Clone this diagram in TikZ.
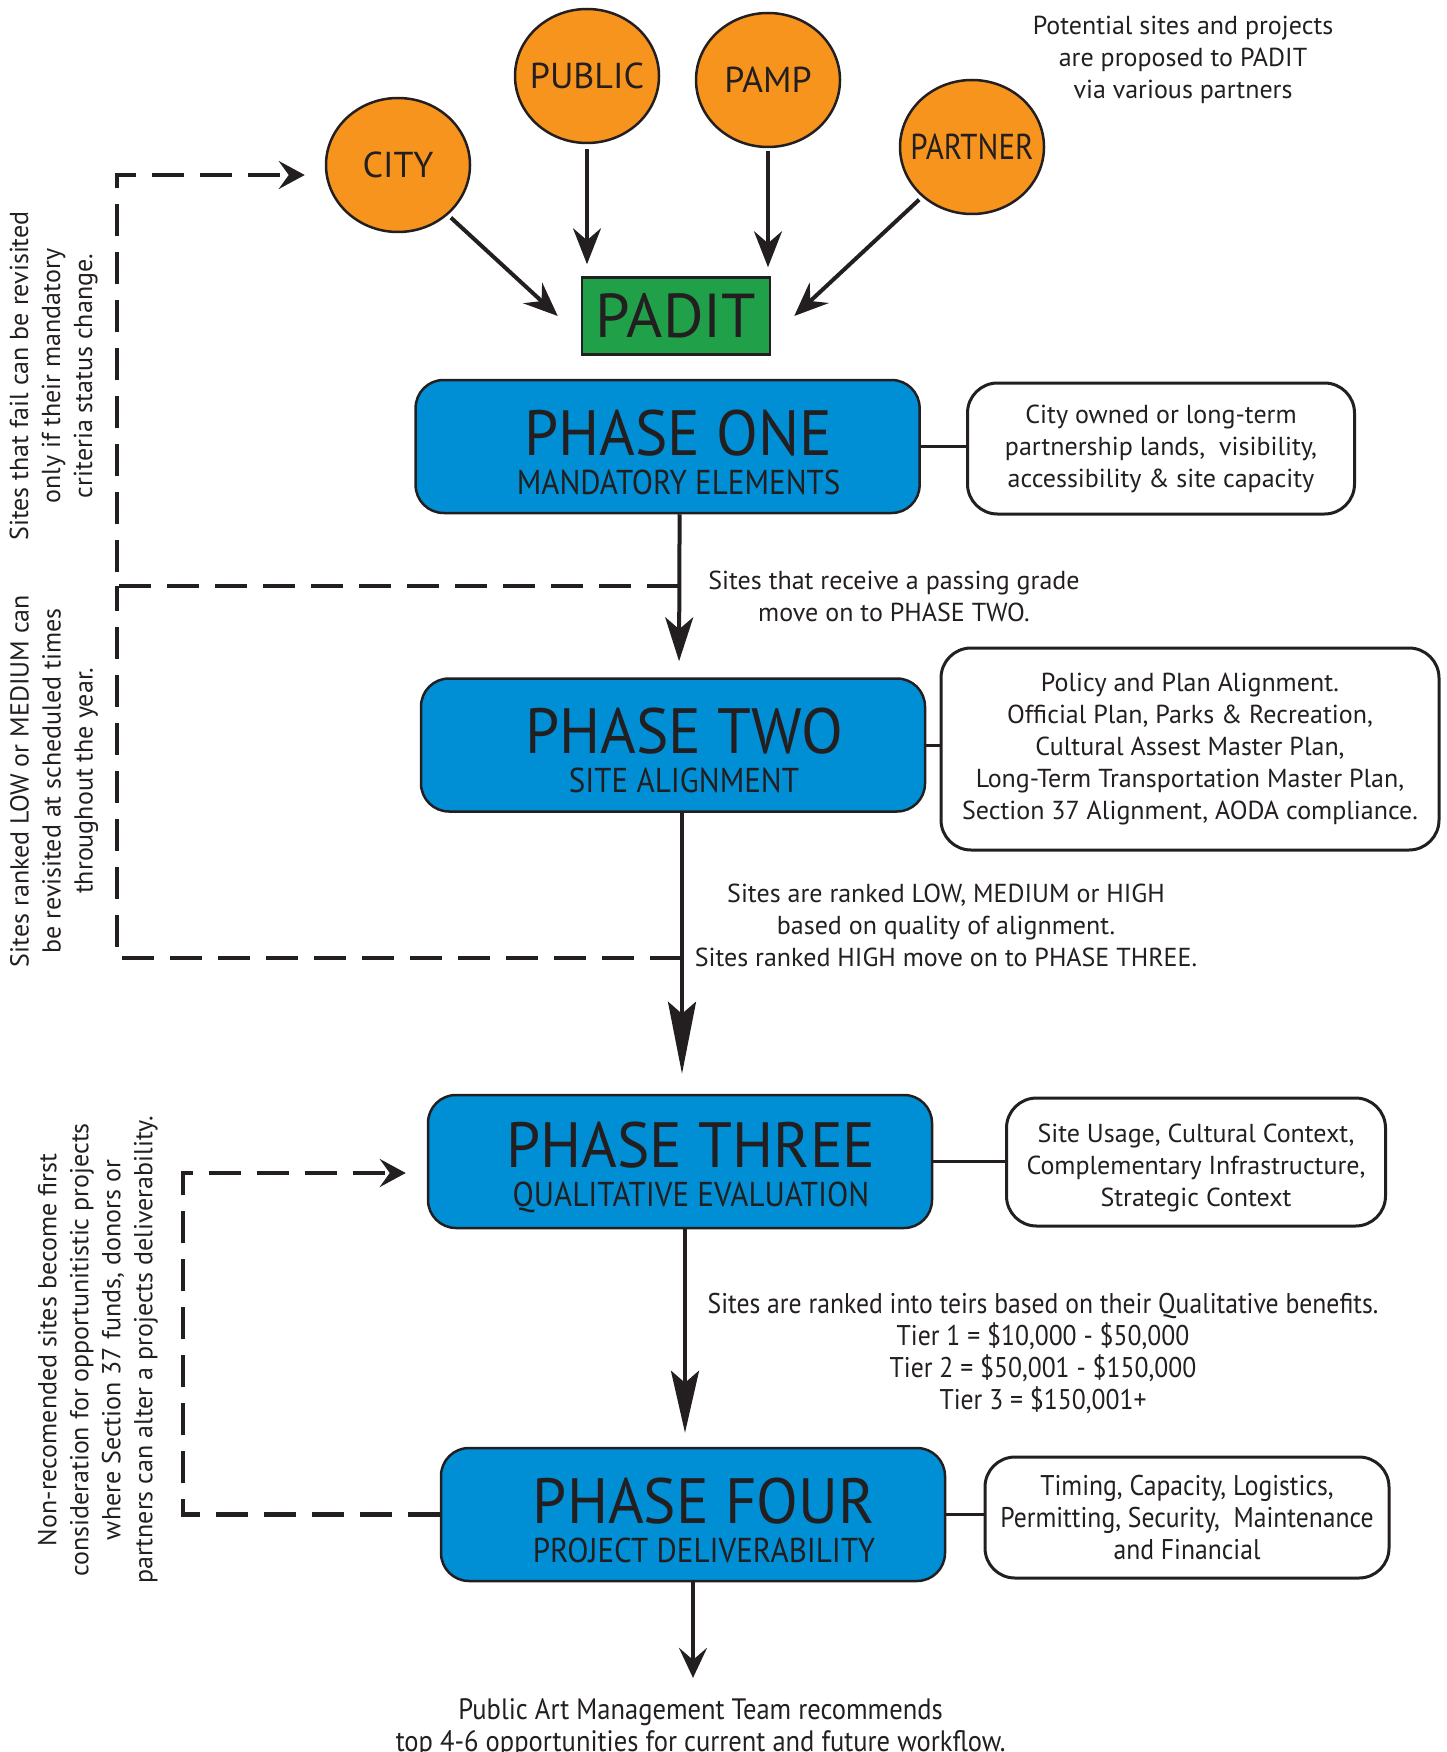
\documentclass[tikz,border=0pt]{standalone}
\usepackage{fontspec}
\setmainfont{PT Sans}
\newfontfamily\condfont[FakeStretch=0.86]{PT Sans}
\newfontfamily\narrowfont[FakeStretch=0.9]{PT Sans}
\newfontfamily\titlefont[FakeStretch=0.955]{PT Sans}
\usepackage{xcolor}
\usetikzlibrary{shapes.geometric,arrows.meta,calc}
\definecolor{ink}{HTML}{231F20}
\definecolor{padorange}{HTML}{F7941D}
\definecolor{padgreen}{HTML}{21A04A}
\definecolor{phaseblue}{HTML}{008FD5}
\newcommand{\phasename}[2]{\hspace*{22pt}{\titlefont\fontsize{64}{64}\selectfont #1}\\\hspace*{22pt}{\narrowfont\fontsize{34.5}{39}\selectfont #2}}

\begin{document}
\begin{tikzpicture}[x=1pt, y=-1pt, ink,
    source/.style={ellipse, draw=ink, line width=2.5pt, fill=padorange, minimum width=144pt, minimum height=134pt, inner sep=-12pt, font=\fontsize{36}{36}\selectfont},
    phase/.style={draw=ink, line width=2.5pt, fill=phaseblue, rounded corners=28pt, minimum width=504pt, minimum height=133pt, inner sep=0pt, align=center, text height=96pt, font=\fontsize{34.5}{39}\selectfont},
    note/.style={align=center, inner sep=0pt, font=\fontsize{26}{32}\selectfont},
    cnote/.style={align=center, inner sep=0pt, font=\narrowfont\fontsize{28.5}{32}\selectfont},
    infobox/.style={draw=ink, line width=3pt, rounded corners=30pt, fill=white},
    flow/.style={line width=4pt, -{Stealth[length=#1, width=28pt, inset=12pt]}},
    back/.style={line width=4.5pt, dash pattern=on 32pt off 16pt, -{Stealth[length=26pt, width=28pt, inset=10pt]}},
    link/.style={line width=3pt}]
    \useasboundingbox (0,0) rectangle (1447,1752);

    % partners proposing sites
    \node[source] (city) at (398,165) {CITY};
    \node[source] (public) at (587,76) {PUBLIC};
    \node[source] (pamp) at (768,80) {PAMP};
    \node[source, font=\condfont\fontsize{36}{36}\selectfont] (partner) at (972,147) {PARTNER};
    \node[draw=ink, line width=2.5pt, fill=padgreen, minimum width=188pt, minimum height=77pt, inner sep=0pt, font=\fontsize{62}{62}\selectfont] (padit) at (676,316) {PADIT};
    \node[note] (proposal) at (1183,60) {Potential sites and projects\\are proposed to PADIT\\via various partners};

    \draw[flow=34pt, shorten <=4pt] (city.-45) -- ([xshift=-23pt]padit.west);
    \draw[flow=36pt, shorten <=5pt, shorten >=12pt] (public.south) -- (public.south |- padit.north);
    \draw[flow=36pt, shorten <=3pt, shorten >=9pt] (pamp.south) -- (pamp.south |- padit.north);
    \draw[flow=34pt, shorten <=4pt] (partner.-135) -- ([xshift=23pt]padit.east);

    % the four phases
    \node[phase] (one) at (667.6,446.5) {\phasename{PHASE ONE}{MANDATORY ELEMENTS}};
    \node[phase] (two) at (673,745) {\phasename{PHASE TWO}{SITE ALIGNMENT}};
    \node[phase] (three) at (680,1161.5) {\phasename{PHASE THREE}{QUALITATIVE EVALUATION}};
    \node[phase] (four) at (693,1514.5) {\phasename{PHASE FOUR}{PROJECT DELIVERABILITY}};

    \node[note, infobox, minimum width=387pt, minimum height=131pt] (oneinfo) at (1161,448.5) {City owned or long-term\\partnership lands,\ \ visibility,\\accessibility \& site capacity};
    \node[note, infobox, minimum width=498pt, minimum height=202pt] (twoinfo) at (1190,749) {Policy and Plan Alignment.\\Official Plan, Parks \& Recreation,\\Cultural Assest Master Plan,\\Long-Term Transportation Master Plan,\\Section 37 Alignment, AODA compliance.};
    \node[note, infobox, minimum width=379pt, minimum height=128pt] (threeinfo) at (1196,1162) {\rule{0pt}{31pt}Site Usage, Cultural Context,\\Complementary Infrastructure,\\Strategic Context};
    \node[cnote, infobox, minimum width=404pt, minimum height=121pt] (fourinfo) at (1187,1517.5) {Timing, Capacity, Logistics,\\Permitting, Security,\ \ Maintenance\\and Financial};

    \draw[link] (one.east) -- (one.east -| oneinfo.west);
    \draw[link] (two.east) -- (two.east -| twoinfo.west);
    \draw[link] (three.east) -- (three.east -| threeinfo.west);
    \draw[link] (four.east) -- (four.east -| fourinfo.west);

    \node[note] (passnote) at (894,596.5) {Sites that receive a passing grade\\move on to PHASE TWO.};
    \node[note] (ranknote) at (946,925) {Sites are ranked LOW, MEDIUM or HIGH\\based on quality of alignment.\\Sites ranked HIGH move on to PHASE THREE.};
    \node[cnote] (tiernote) at (1043,1353) {Sites are ranked into teirs based on their Qualitative benefits.\\Tier 1 = \$10,000 - \$50,000\\Tier 2 = \$50,001 - \$150,000\\Tier 3 = \$150,001+};
    \node[cnote, font=\narrowfont\fontsize{29.5}{32}\selectfont] (result) at (700.6,1727.5) {Public Art Management Team recommends\\top 4-6 opportunities for current and future workflow.};

    \draw[flow=44pt, shorten >=16pt] ([xshift=12pt]one.south) -- ([xshift=6pt]two.north);
    \draw[flow=72pt, shorten >=20pt] ([xshift=9pt]two.south) -- ([xshift=2pt]three.north);
    \draw[flow=62pt, shorten >=14pt] ([xshift=5pt]three.south) -- ([xshift=-8pt]four.north);
    \draw[flow=30pt, shorten >=20pt] (four.south) -- (four.south |- result.north);

    % loops back
    \coordinate (j1) at (679.4,586);
    \coordinate (j2) at (681.6,958);
    \coordinate (xl) at (117,175);
    \coordinate (xr) at (183,1173);
    \draw[back, shorten >=20pt] (j1) -| (xl) -- ([yshift=-10pt]city.west);
    \draw[back, -] (j2) -| (j1 -| xl);
    \draw[back, shorten >=21pt] (four.west) -| (xr) -- ([yshift=-11.5pt]three.west);

    \node[note, rotate=90] (failnote) at (53.5,376) {Sites that fail can be revisited\\only if their mandatory\\criteria status change.};
    \node[note, rotate=90] (lownote) at (54,781) {Sites ranked LOW or MEDIUM can\\be revisited at scheduled times\\throughout the year.};
    \node[note, rotate=90] (nonrecnote) at (98,1350) {Non-recomended sites become first\\consideration for opportunitistic projects\\where Section 37 funds, donors or\\partners can alter a projects deliverability.};
\end{tikzpicture}
\end{document}
